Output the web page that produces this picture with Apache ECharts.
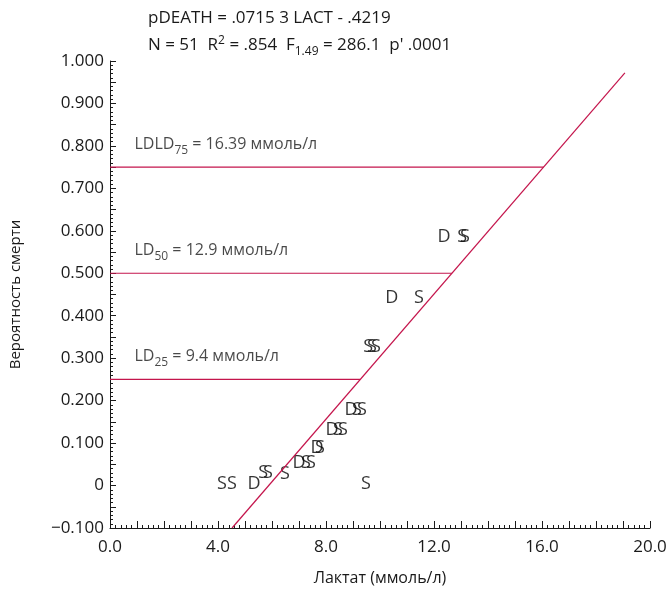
<!DOCTYPE html>
<html>
<head>
<meta charset="utf-8">
<script src="https://cdn.jsdelivr.net/npm/echarts@6/dist/echarts.min.js"></script>
<style>
  html, body { margin: 0; padding: 0; background: #fff; }
  #chart { width: 668px; height: 590px; }
</style>
</head>
<body>
<div id="chart"></div>
<script>
// points: [lactate, probability]
var survived = [
  [4.15, 0.005], [4.52, 0.005], [5.67, 0.029], [5.85, 0.029], [6.48, 0.027],
  [7.26, 0.053], [7.44, 0.053], [7.78, 0.088], [8.44, 0.131], [8.63, 0.131],
  [9.15, 0.178], [9.33, 0.178], [9.56, 0.326], [9.70, 0.326], [9.85, 0.326],
  [11.44, 0.442], [13.04, 0.585], [13.15, 0.585], [9.48, 0.005]
]
var died = [
  [5.33, 0.005], [7.0, 0.053], [7.67, 0.088], [8.22, 0.131], [8.93, 0.178],
  [10.44, 0.442], [12.37, 0.585]
]
// regression line ends
var fitLine = [[4.52, -0.1], [19.07, 0.972]]
// LD levels: [probability, lactate at crossing, subscript, label value, prefix]
var ldLevels = [
  [0.75, 16.06, '75', '16.39', 'LD'],
  [0.50, 12.66, '50', '12.9', ''],
  [0.25, 9.27, '25', '9.4', '']
]

var red = '#c4154c'
var ink = '#1a1a1a'
var font = '"Open Sans", "DejaVu Sans", sans-serif'

var myChart = echarts.init(document.getElementById('chart'))

var series = []
ldLevels.forEach(function (lv) {
  series.push({
    type: 'line',
    data: [[0, lv[0]], [lv[1], lv[0]]],
    showSymbol: false,
    lineStyle: { color: red, width: 1.2 },
    silent: true
  })
})
series.push({
  type: 'line',
  data: fitLine,
  showSymbol: false,
  lineStyle: { color: red, width: 1.2 },
  silent: true
})
series.push({
  type: 'scatter',
  data: ldLevels.map(function (lv) { return [0, lv[0], lv[2], lv[3], lv[4]] }),
  symbolSize: 1,
  itemStyle: { color: 'rgba(0,0,0,0)' },
  label: {
    show: true,
    position: 'right',
    distance: 24,
    offset: [0, -23],
    formatter: function (p) {
      return p.data[4] + 'LD{sub|' + p.data[2] + '} = ' + p.data[3] + ' ммоль/л'
    },
    color: ink,
    fontFamily: font,
    fontSize: 16,
    rich: {
      sub: { fontSize: 12, padding: [12, 0, 0, 0], fontFamily: font, color: ink }
    }
  }
})
function letterSeries(data, letter) {
  return {
    type: 'scatter',
    data: data,
    symbolSize: 1,
    itemStyle: { color: 'rgba(0,0,0,0)' },
    label: {
      show: true,
      position: 'inside',
      formatter: letter,
      color: '#000',
      fontFamily: font,
      fontSize: 18
    }
  }
}
series.push(letterSeries(survived, 'S'))
series.push(letterSeries(died, 'D'))

var option = {
  animation: false,
  title: {
    left: 143,
    top: 0,
    text: 'pDEATH = .0715 3 LACT - .4219\nN = 51  R{sup|2} = .854  F{sub|1.49} = 286.1  p\' .0001',
    textStyle: {
      fontFamily: font,
      fontSize: 17,
      fontWeight: 'normal',
      color: ink,
      lineHeight: 27,
      rich: {
        sup: { fontSize: 12, padding: [0, 0, 10, 0], fontFamily: font, color: ink },
        sub: { fontSize: 12, padding: [12, 0, 0, 0], fontFamily: font, color: ink }
      }
    }
  },
  grid: { left: 110, right: 18, top: 61, bottom: 62, outerBoundsMode: 'none' },
  xAxis: {
    type: 'value',
    min: 0,
    max: 20,
    interval: 1,
    name: 'Лактат (ммоль/л)',
    nameLocation: 'middle',
    nameGap: 42,
    nameTextStyle: { fontFamily: font, fontSize: 16, color: ink },
    axisLine: { onZero: false, lineStyle: { color: ink, width: 1 } },
    axisTick: { inside: true, length: 7, lineStyle: { color: ink } },
    minorTick: { show: true, splitNumber: 5, length: 3, lineStyle: { color: ink } },
    splitLine: { show: false },
    axisLabel: {
      fontFamily: font,
      fontSize: 17,
      color: ink,
      margin: 11,
      formatter: function (v) {
        return Math.round(v) % 4 === 0 ? v.toFixed(1) : ''
      }
    }
  },
  yAxis: {
    type: 'value',
    min: -0.1,
    max: 1.0,
    interval: 0.05,
    name: 'Вероятность смерти',
    nameLocation: 'middle',
    nameGap: 87,
    nameTextStyle: { fontFamily: font, fontSize: 15, color: ink },
    axisLine: { show: true, onZero: false, lineStyle: { color: ink, width: 1 } },
    axisTick: { show: true, inside: true, length: 6, lineStyle: { color: ink } },
    minorTick: { show: true, splitNumber: 5, length: 3, lineStyle: { color: ink } },
    splitLine: { show: false },
    axisLabel: {
      fontFamily: font,
      fontSize: 17,
      color: ink,
      margin: 6,
      formatter: function (v) {
        var k = Math.round(v * 100)
        if (k % 10 !== 0) return ''
        if (k === 0) return '0'
        return (v < 0 ? '\u2212' : '') + Math.abs(v).toFixed(3)
      }
    }
  },
  series: series
}
myChart.setOption(option)
</script>
</body>
</html>
